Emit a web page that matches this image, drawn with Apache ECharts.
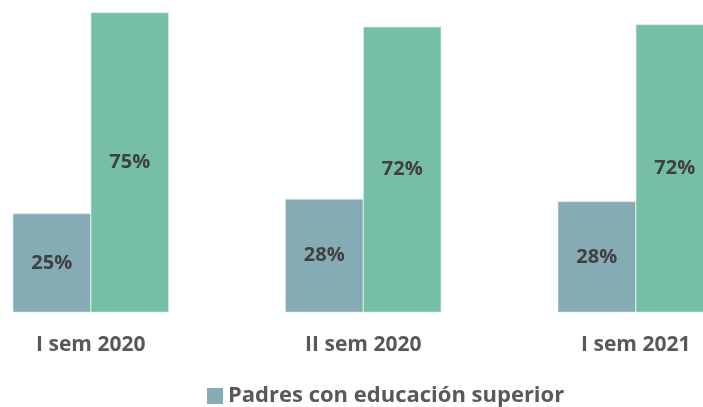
<!DOCTYPE html>
<html>
<head>
    <meta charset="utf-8">
    <title>Padres con educación superior</title>
    <style>
        html, body { margin: 0; padding: 0; background: #fff; }
        #chart { width: 703px; height: 407px; }
    </style>
</head>
<body>
    <div id="chart"></div>
    <script src="https://cdn.jsdelivr.net/npm/echarts@6/dist/echarts.min.js"></script>
    <script type="text/javascript">
        // datos
        var categorias = ['I sem 2020', 'II sem 2020', 'I sem 2021'];
        var conEducacion = [24.8, 28.4, 27.8];
        var sinEducacion = [75.2, 71.6, 72.2];

        var chart = echarts.init(document.getElementById('chart'));

        var etiqueta = {
            show: true,
            position: 'inside',
            color: '#404040',
            fontFamily: 'Open Sans',
            fontWeight: 'bold',
            fontSize: 20,
            formatter: function (p) {
                return Math.round(p.value) + '%';
            }
        };

        var option = {
            animation: false,
            grid: {
                left: -45.5,
                width: 817.5,
                top: 1.3,
                bottom: 94.7,
                outerBoundsMode: 'none',
                containLabel: false
            },
            legend: {
                data: ['Padres con educación superior'],
                left: 207,
                top: 384,
                padding: 0,
                itemWidth: 16,
                itemHeight: 16,
                itemGap: 6,
                icon: 'rect',
                itemStyle: { borderWidth: 0 },
                textStyle: {
                    color: '#595959',
                    fontFamily: 'Open Sans',
                    fontWeight: 'bold',
                    fontSize: 22,
                    lineHeight: 24
                }
            },
            xAxis: {
                type: 'category',
                data: categorias,
                axisLine: { show: false },
                axisTick: { show: false },
                axisLabel: {
                    margin: 22,
                    color: '#595959',
                    fontFamily: 'Open Sans',
                    fontWeight: 'bold',
                    fontSize: 21
                }
            },
            yAxis: {
                type: 'value',
                min: 0,
                max: 78,
                show: false,
                splitLine: { show: false }
            },
            series: [
                {
                    name: 'Padres con educación superior',
                    type: 'bar',
                    data: conEducacion,
                    barWidth: 78,
                    barGap: '0%',
                    itemStyle: { color: '#85abb5', borderColor: '#d6e4e6', borderWidth: 0.6 },
                    label: etiqueta
                },
                {
                    name: 'Padres sin educación superior',
                    type: 'bar',
                    data: sinEducacion,
                    barWidth: 78,
                    barGap: '0%',
                    itemStyle: { color: '#76bea6', borderColor: '#d4ebe2', borderWidth: 0.6 },
                    label: etiqueta
                }
            ]
        };

        chart.setOption(option);
    </script>
</body>
</html>
